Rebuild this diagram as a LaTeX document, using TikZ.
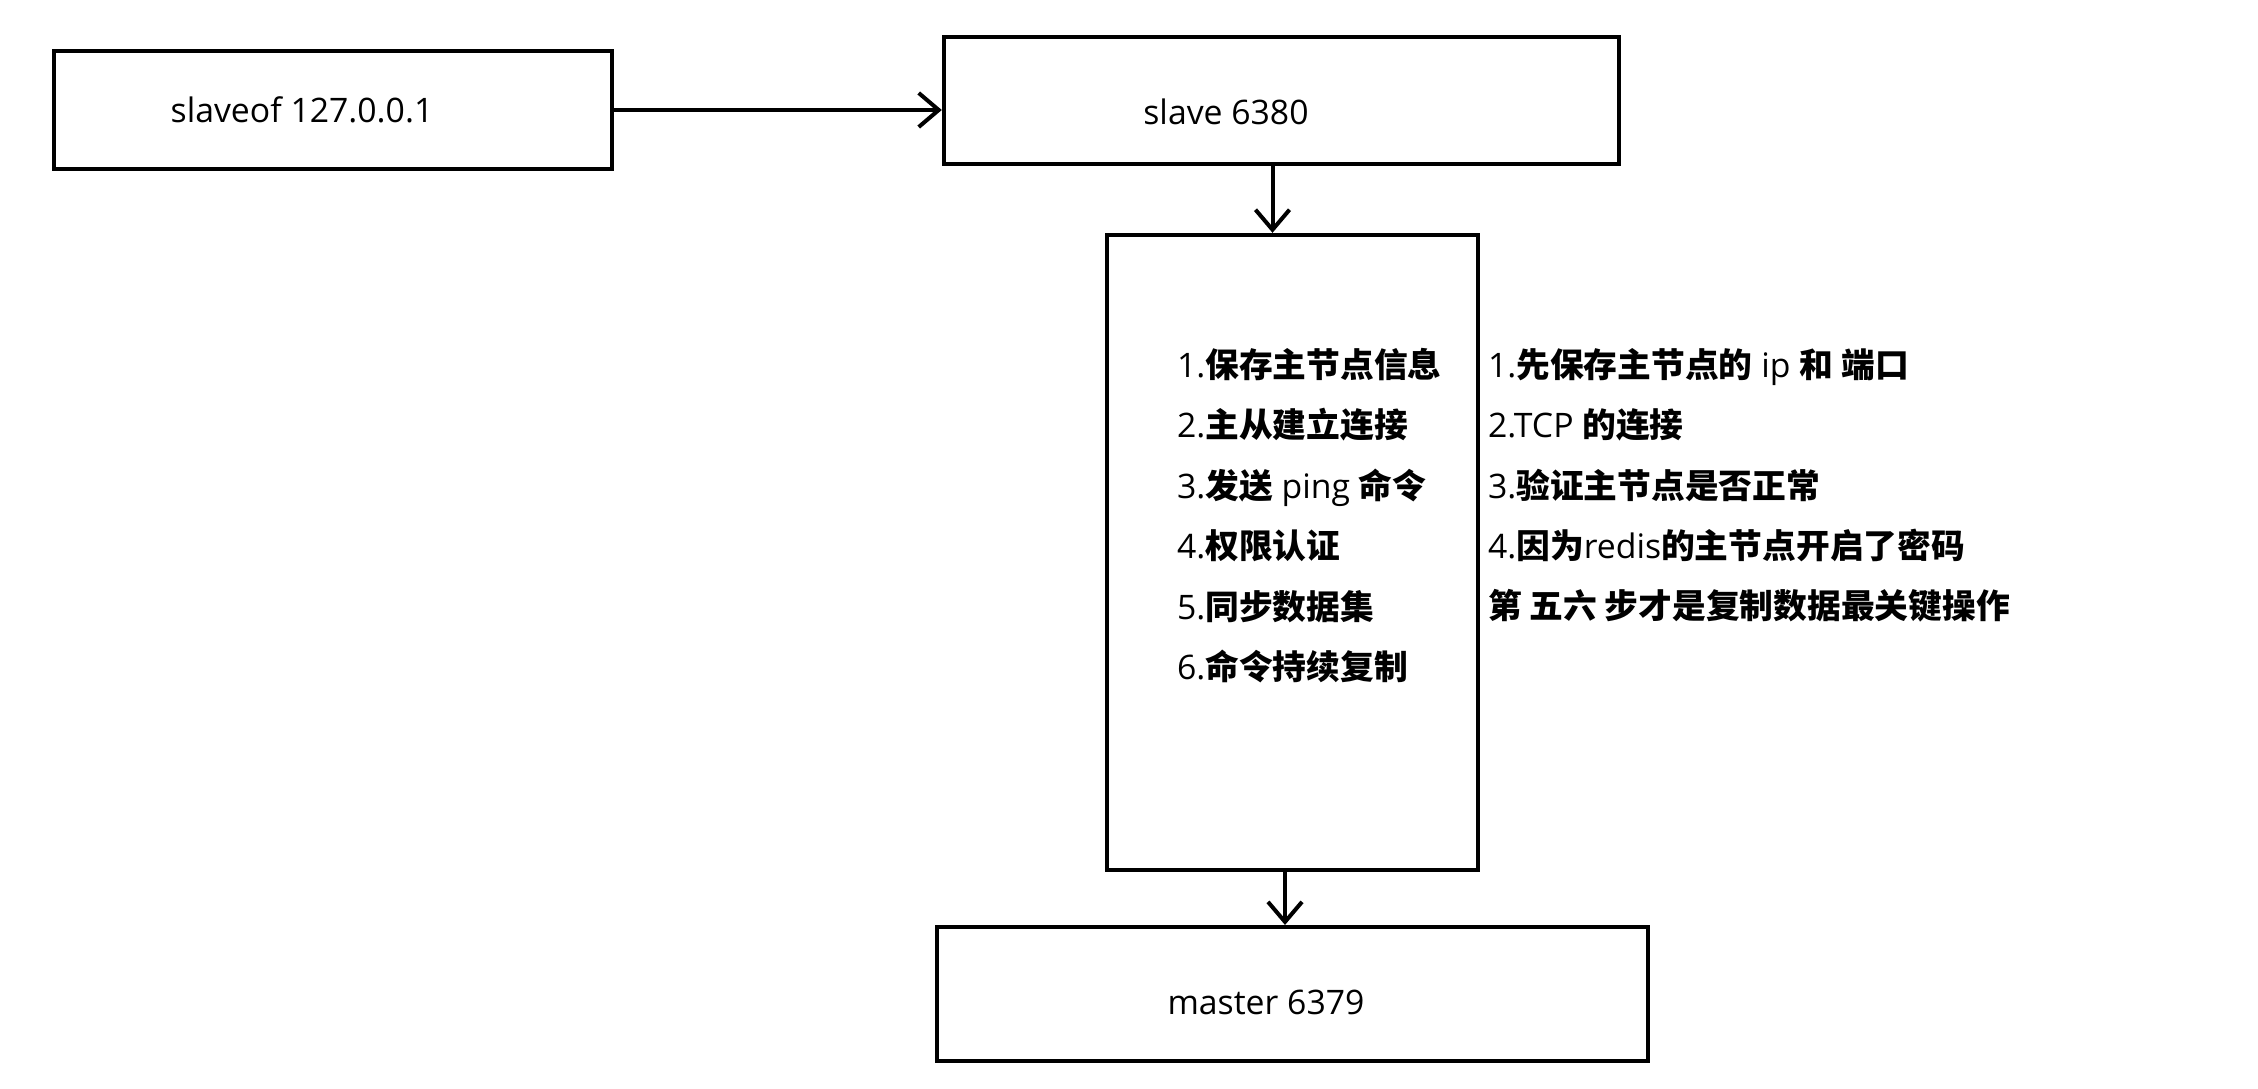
\documentclass[tikz,border=0pt]{standalone}
\usepackage{fontspec}
\setmainfont{Open Sans}
\newfontfamily\cjk{Noto Sans CJK SC}
\newcommand{\zh}[1]{{\cjk\bfseries #1}}
\usetikzlibrary{arrows.meta}

\begin{document}
\begin{tikzpicture}[x=0.01cm, y=-0.01cm, font=\fontsize{9.6pt}{17.2pt}\selectfont,
  >={Straight Barb[length=0.2cm, width=0.34cm]},
  every path/.style={line width=0.04cm},
  box/.style={draw, inner sep=0pt},
  steps text/.style={align=left, anchor=north west, inner sep=0pt}]
\useasboundingbox (0,0) rectangle (2258,1088);

\node [box, minimum width=5.58cm, minimum height=1.18cm,
  label={[xshift=-0.31cm]center:slaveof 127.0.0.1}] (cmd) at (333,110) {};
\node [box, minimum width=6.75cm, minimum height=1.27cm,
  label={[xshift=-0.555cm, yshift=-0.115cm]center:slave 6380}] (slave) at (1281.5,100.5) {};
\node [box, minimum width=3.71cm, minimum height=6.35cm] (flow) at (1292.5,552.5) {};
\node [box, minimum width=7.11cm, minimum height=1.34cm,
  label={[xshift=-0.265cm, yshift=-0.08cm]center:master 6379}] (master) at (1292.5,994) {};

\node [steps text] (steps) at (1175,346) {1.\zh{保存主节点信息}\\
2.\zh{主从建立连接}\\
3.\zh{发送} ping \zh{命令}\\
4.\zh{权限认证}\\
5.\zh{同步数据集}\\
6.\zh{命令持续复制}};
\node [steps text] (notes) at (1486,346) {1.\zh{先保存主节点的} ip \zh{和} \zh{端口}\\
2.TCP \zh{的连接}\\
3.\zh{验证主节点是否正常}\\
4.\zh{因为}redis\zh{的主节点开启了密码}\\
\zh{第 五六 步才是复制数据最关键操作}};

\draw [->] (cmd.east) -- (cmd.east -| slave.west);
\draw [->] ([xshift=-0.09cm]slave.south) -- ([xshift=-0.09cm]slave.south |- flow.north);
\draw [->] ([xshift=-0.075cm]flow.south) -- ([xshift=-0.075cm]flow.south |- master.north);
\end{tikzpicture}
\end{document}
